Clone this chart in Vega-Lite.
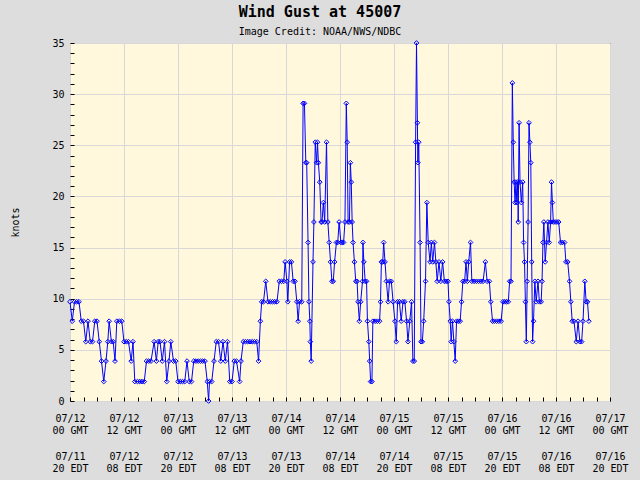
{
  "$schema": "https://vega.github.io/schema/vega-lite/v6.json",
  "width": 540,
  "height": 358,
  "autosize": "none",
  "padding": {"left": 70, "top": 43, "right": 30, "bottom": 79},
  "background": "#dddddd",
  "title": {
    "text": "Wind Gust at 45007",
    "subtitle": "Image Credit: NOAA/NWS/NDBC",
    "anchor": "middle",
    "dx": -20,
    "font": "DejaVu Sans Mono",
    "fontSize": 15,
    "fontWeight": "bold",
    "color": "#000000",
    "subtitleFont": "DejaVu Sans Mono",
    "subtitleFontSize": 10,
    "subtitleColor": "#000000",
    "subtitlePadding": 7,
    "offset": 1
  },
  "config": {
    "view": {"fill": "#fff8dc", "stroke": "#000000", "strokeWidth": 1},
    "axis": {
      "labelFont": "DejaVu Sans Mono",
      "labelFontSize": 10,
      "labelColor": "#000000",
      "titleFont": "DejaVu Sans Mono",
      "titleFontSize": 10,
      "titleFontWeight": "normal",
      "titleColor": "#000000",
      "domain": false,
      "gridColor": "#d8d8d8",
      "gridWidth": 1,
      "tickColor": "#000000",
      "tickWidth": 1
    }
  },
  "data": {
    "values": [
      {"h":0,"v":9.7},{"h":0.5,"v":7.8},{"h":1,"v":9.7},{"h":1.5,"v":9.7},{"h":2,"v":9.7},{"h":2.5,"v":7.8},{"h":3,"v":7.8},{"h":3.5,"v":5.8},{"h":4,"v":7.8},{"h":4.5,"v":5.8},{"h":5,"v":5.8},{"h":5.5,"v":7.8},{"h":6,"v":7.8},{"h":6.5,"v":5.8},{"h":7,"v":3.9},{"h":7.5,"v":1.9},{"h":8,"v":3.9},{"h":8.4,"v":5.8},{"h":8.7,"v":7.8},{"h":9.2,"v":5.8},{"h":9.6,"v":5.8},{"h":10,"v":3.9},{"h":10.4,"v":7.8},{"h":11,"v":7.8},{"h":11.5,"v":7.8},{"h":12,"v":5.8},{"h":12.5,"v":5.8},{"h":13,"v":5.8},{"h":13.6,"v":3.9},{"h":14,"v":5.8},{"h":14.4,"v":1.9},{"h":15,"v":1.9},{"h":15.5,"v":1.9},{"h":16,"v":1.9},{"h":16.5,"v":1.9},{"h":17,"v":3.9},{"h":17.5,"v":3.9},{"h":18,"v":3.9},{"h":18.7,"v":5.8},{"h":19.2,"v":3.9},{"h":19.6,"v":5.8},{"h":20,"v":5.8},
      {"h":20.5,"v":3.9},{"h":21,"v":5.8},{"h":21.5,"v":1.9},{"h":22,"v":3.9},{"h":22.4,"v":5.8},{"h":23,"v":3.9},{"h":23.5,"v":3.9},{"h":24,"v":1.9},{"h":24.5,"v":1.9},{"h":25,"v":1.9},{"h":25.5,"v":1.9},{"h":26,"v":3.9},{"h":26.5,"v":1.9},{"h":27,"v":1.9},{"h":27.5,"v":3.9},{"h":28,"v":3.9},{"h":28.5,"v":3.9},{"h":29,"v":3.9},{"h":29.5,"v":3.9},{"h":30,"v":3.9},{"h":30.5,"v":1.9},{"h":30.8,"v":0},{"h":31,"v":1.9},{"h":31.5,"v":1.9},{"h":32,"v":3.9},{"h":32.5,"v":5.8},{"h":33,"v":5.8},{"h":33.5,"v":3.9},{"h":34,"v":5.8},{"h":34.5,"v":3.9},{"h":35,"v":5.8},{"h":35.5,"v":1.9},{"h":36,"v":1.9},{"h":36.5,"v":3.9},{"h":37,"v":3.9},{"h":37.7,"v":1.9},{"h":38,"v":3.9},{"h":38.5,"v":5.8},{"h":39,"v":5.8},{"h":39.5,"v":5.8},{"h":40,"v":5.8},
      {"h":40.5,"v":5.8},{"h":41,"v":5.8},{"h":41.5,"v":5.8},{"h":41.9,"v":3.9},{"h":42.3,"v":7.8},{"h":42.6,"v":9.7},{"h":43,"v":9.7},{"h":43.5,"v":11.7},{"h":44,"v":9.7},{"h":44.5,"v":9.7},{"h":45,"v":9.7},{"h":45.5,"v":9.7},{"h":46,"v":9.7},{"h":46.5,"v":11.7},{"h":47,"v":11.7},{"h":47.5,"v":11.7},{"h":47.8,"v":13.6},{"h":48.2,"v":11.7},{"h":48.4,"v":9.7},{"h":48.8,"v":13.6},{"h":49.2,"v":13.6},{"h":49.6,"v":11.7},{"h":50,"v":11.7},{"h":50.4,"v":9.7},{"h":50.7,"v":7.8},{"h":51,"v":9.7},{"h":51.5,"v":9.7},{"h":51.8,"v":29.1},{"h":52.1,"v":29.1},{"h":52.4,"v":23.3},{"h":52.6,"v":23.3},{"h":52.9,"v":15.5},{"h":53.1,"v":9.7},{"h":53.3,"v":7.8},{"h":53.4,"v":5.8},{"h":53.6,"v":3.9},{"h":54,"v":13.6},{"h":54.2,"v":17.5},{"h":54.5,"v":25.3},{"h":54.8,"v":23.3},{"h":55,"v":25.3},{"h":55.2,"v":23.3},{"h":55.5,"v":21.4},{"h":55.8,"v":17.5},{"h":56,"v":17.5},{"h":56.3,"v":19.4},{"h":56.6,"v":17.5},{"h":57,"v":25.3},{"h":57.3,"v":17.5},{"h":57.6,"v":15.5},{"h":57.9,"v":13.6},{"h":58.2,"v":11.7},{"h":58.5,"v":11.7},{"h":58.8,"v":13.6},{"h":59.2,"v":15.5},{"h":59.5,"v":15.5},{"h":59.8,"v":17.5},
      {"h":60.2,"v":15.5},{"h":60.5,"v":15.5},{"h":60.8,"v":15.5},{"h":61.1,"v":17.5},{"h":61.4,"v":29.1},{"h":61.6,"v":25.3},{"h":61.8,"v":17.5},{"h":62.1,"v":17.5},{"h":62.3,"v":23.3},{"h":62.5,"v":21.4},{"h":62.7,"v":17.5},{"h":62.9,"v":15.5},{"h":63.2,"v":13.6},{"h":63.5,"v":11.7},{"h":63.8,"v":11.7},{"h":64,"v":9.7},{"h":64.3,"v":7.8},{"h":64.6,"v":9.7},{"h":65,"v":11.7},{"h":65.1,"v":15.5},{"h":65.3,"v":13.6},{"h":65.6,"v":11.7},{"h":65.9,"v":11.7},{"h":66.1,"v":7.8},{"h":66.4,"v":5.8},{"h":66.6,"v":3.9},{"h":66.8,"v":1.9},{"h":67.1,"v":1.9},{"h":67.3,"v":7.8},{"h":67.8,"v":7.8},{"h":68.3,"v":7.8},{"h":68.8,"v":7.8},{"h":69,"v":9.7},{"h":69.2,"v":13.6},{"h":69.5,"v":13.6},{"h":69.7,"v":15.5},{"h":70,"v":13.6},{"h":70.3,"v":11.7},{"h":70.7,"v":9.7},{"h":71,"v":11.7},{"h":71.4,"v":11.7},{"h":71.8,"v":9.7},{"h":72.2,"v":7.8},{"h":72.5,"v":5.8},{"h":72.8,"v":9.7},{"h":73.2,"v":9.7},{"h":73.6,"v":7.8},{"h":74,"v":9.7},{"h":74.4,"v":9.7},{"h":74.8,"v":7.8},{"h":75.1,"v":5.8},{"h":75.5,"v":7.8},{"h":75.9,"v":9.7},{"h":76.2,"v":3.9},{"h":76.5,"v":3.9},{"h":76.8,"v":25.3},{"h":77,"v":35},{"h":77.2,"v":27.2},{"h":77.3,"v":23.3},{"h":77.5,"v":25.3},{"h":77.8,"v":15.5},{"h":78,"v":5.8},{"h":78.3,"v":5.8},{"h":78.6,"v":7.8},{"h":79,"v":11.7},{"h":79.3,"v":19.4},{"h":79.6,"v":15.5},
      {"h":80,"v":13.6},{"h":80.3,"v":15.5},{"h":80.6,"v":13.6},{"h":81,"v":15.5},{"h":81.3,"v":13.6},{"h":81.6,"v":11.7},{"h":82,"v":13.6},{"h":82.4,"v":11.7},{"h":82.8,"v":13.6},{"h":83.2,"v":11.7},{"h":83.6,"v":11.7},{"h":84,"v":11.7},{"h":84.2,"v":9.7},{"h":84.5,"v":7.8},{"h":84.7,"v":5.8},{"h":85,"v":7.8},{"h":85.3,"v":5.8},{"h":85.6,"v":3.9},{"h":85.9,"v":7.8},{"h":86.3,"v":7.8},{"h":86.7,"v":7.8},{"h":87,"v":9.7},{"h":87.3,"v":11.7},{"h":87.7,"v":11.7},{"h":88,"v":13.6},{"h":88.3,"v":11.7},{"h":88.6,"v":13.6},{"h":89,"v":15.5},{"h":89.3,"v":11.7},{"h":89.8,"v":11.7},{"h":90.3,"v":11.7},{"h":90.8,"v":11.7},{"h":91.3,"v":11.7},{"h":91.8,"v":11.7},{"h":92.3,"v":13.6},{"h":92.7,"v":11.7},{"h":93.2,"v":11.7},{"h":93.5,"v":9.7},{"h":93.9,"v":7.8},{"h":94.3,"v":7.8},{"h":94.8,"v":7.8},{"h":95.3,"v":7.8},{"h":95.8,"v":7.8},{"h":96.2,"v":9.7},{"h":96.6,"v":9.7},{"h":97,"v":9.7},{"h":97.4,"v":9.7},{"h":97.7,"v":11.7},{"h":98,"v":11.7},{"h":98.3,"v":31.1},{"h":98.5,"v":25.3},{"h":98.7,"v":21.4},{"h":98.9,"v":19.4},{"h":99.1,"v":21.4},{"h":99.3,"v":19.4},{"h":99.5,"v":21.4},{"h":99.6,"v":17.5},{"h":99.8,"v":27.2},
      {"h":100,"v":21.4},{"h":100.3,"v":19.4},{"h":100.6,"v":21.4},{"h":100.8,"v":15.5},{"h":101,"v":13.6},{"h":101.2,"v":9.7},{"h":101.4,"v":5.8},{"h":101.6,"v":11.7},{"h":101.8,"v":17.5},{"h":102,"v":27.2},{"h":102.2,"v":25.3},{"h":102.4,"v":23.3},{"h":102.6,"v":13.6},{"h":102.8,"v":5.8},{"h":103,"v":7.8},{"h":103.3,"v":11.7},{"h":103.6,"v":9.7},{"h":104,"v":11.7},{"h":104.3,"v":9.7},{"h":104.7,"v":9.7},{"h":104.9,"v":11.7},{"h":105.1,"v":15.5},{"h":105.3,"v":17.5},{"h":105.6,"v":13.6},{"h":105.9,"v":15.5},{"h":106.2,"v":17.5},{"h":106.5,"v":15.5},{"h":106.8,"v":17.5},{"h":107,"v":21.4},{"h":107.2,"v":19.4},{"h":107.4,"v":17.5},{"h":107.8,"v":17.5},{"h":108.2,"v":17.5},{"h":108.6,"v":17.5},{"h":109,"v":15.5},{"h":109.4,"v":15.5},{"h":109.9,"v":15.5},{"h":110.2,"v":13.6},{"h":110.6,"v":13.6},{"h":111,"v":11.7},{"h":111.3,"v":9.7},{"h":111.6,"v":7.8},{"h":112,"v":7.8},{"h":112.5,"v":5.8},{"h":112.9,"v":7.8},{"h":113.3,"v":5.8},{"h":113.7,"v":5.8},{"h":114,"v":7.8},{"h":114.4,"v":11.7},{"h":114.7,"v":9.7},{"h":115,"v":9.7},{"h":115.3,"v":7.8}
    ]
  },
  "encoding": {
    "y": {
      "field": "v",
      "type": "quantitative",
      "scale": {"domain": [0, 35], "nice": false},
      "axis": {
        "title": "knots",
        "titleX": -55,
        "titleY": 179,
        "titleAngle": -90,
        "titleAlign": "center",
        "titleBaseline": "middle",
        "values": [0,1,2,3,4,5,6,7,8,9,10,11,12,13,14,15,16,17,18,19,20,21,22,23,24,25,26,27,28,29,30,31,32,33,34,35],
        "tickSize": -4,
        "labelPadding": 10,
        "labelOverlap": false,
        "labelFlush": false,
        "gridOpacity": {"condition": {"test": "datum.value % 5 === 0", "value": 1}, "value": 0},
        "labelExpr": "datum.value % 5 === 0 ? datum.label : ''"
      }
    }
  },
  "layer": [
    {
      "mark": {"type": "line", "color": "#0000ff", "strokeWidth": 1, "clip": true},
      "encoding": {
        "x": {
          "field": "h",
          "type": "quantitative",
          "scale": {"domain": [0, 120], "nice": false, "zero": false},
          "axis": {
            "title": null,
            "orient": "bottom",
            "values": [0,3,6,9,12,15,18,21,24,27,30,33,36,39,42,45,48,51,54,57,60,63,66,69,72,75,78,81,84,87,90,93,96,99,102,105,108,111,114,117,120],
            "tickSize": -4,
            "labelPadding": 16,
            "labelAngle": 0,
            "labelAlign": "center",
            "labelBaseline": "top",
            "labelLineHeight": 12,
            "labelOverlap": false,
            "labelFlush": false,
            "gridOpacity": {"condition": {"test": "datum.value % 12 === 0", "value": 1}, "value": 0},
            "labelExpr": "datum.value % 12 !== 0 ? '' : [['07/12','07/12','07/13','07/13','07/14','07/14','07/15','07/15','07/16','07/16','07/17'][datum.value/12], ['00 GMT','12 GMT'][(datum.value/12)%2]]"
          }
        }
      }
    },
    {
      "mark": {"type": "point", "shape": "diamond", "size": 22, "filled": false, "color": "#0000ff", "strokeWidth": 1, "opacity": 1, "clip": false},
      "encoding": {
        "x": {
          "field": "h",
          "type": "quantitative",
          "scale": {"domain": [0, 120], "nice": false, "zero": false},
          "axis": {
            "title": null,
            "orient": "bottom",
            "values": [0,12,24,36,48,60,72,84,96,108,120],
            "ticks": false,
            "grid": false,
            "labelPadding": 50,
            "labelAngle": 0,
            "labelAlign": "center",
            "labelBaseline": "top",
            "labelLineHeight": 12,
            "labelOverlap": false,
            "labelFlush": false,
            "labelExpr": "[['07/11','07/12','07/12','07/13','07/13','07/14','07/14','07/15','07/15','07/16','07/16'][datum.value/12], ['20 EDT','08 EDT'][(datum.value/12)%2]]"
          }
        }
      }
    }
  ],
  "resolve": {"axis": {"x": "independent"}}
}
